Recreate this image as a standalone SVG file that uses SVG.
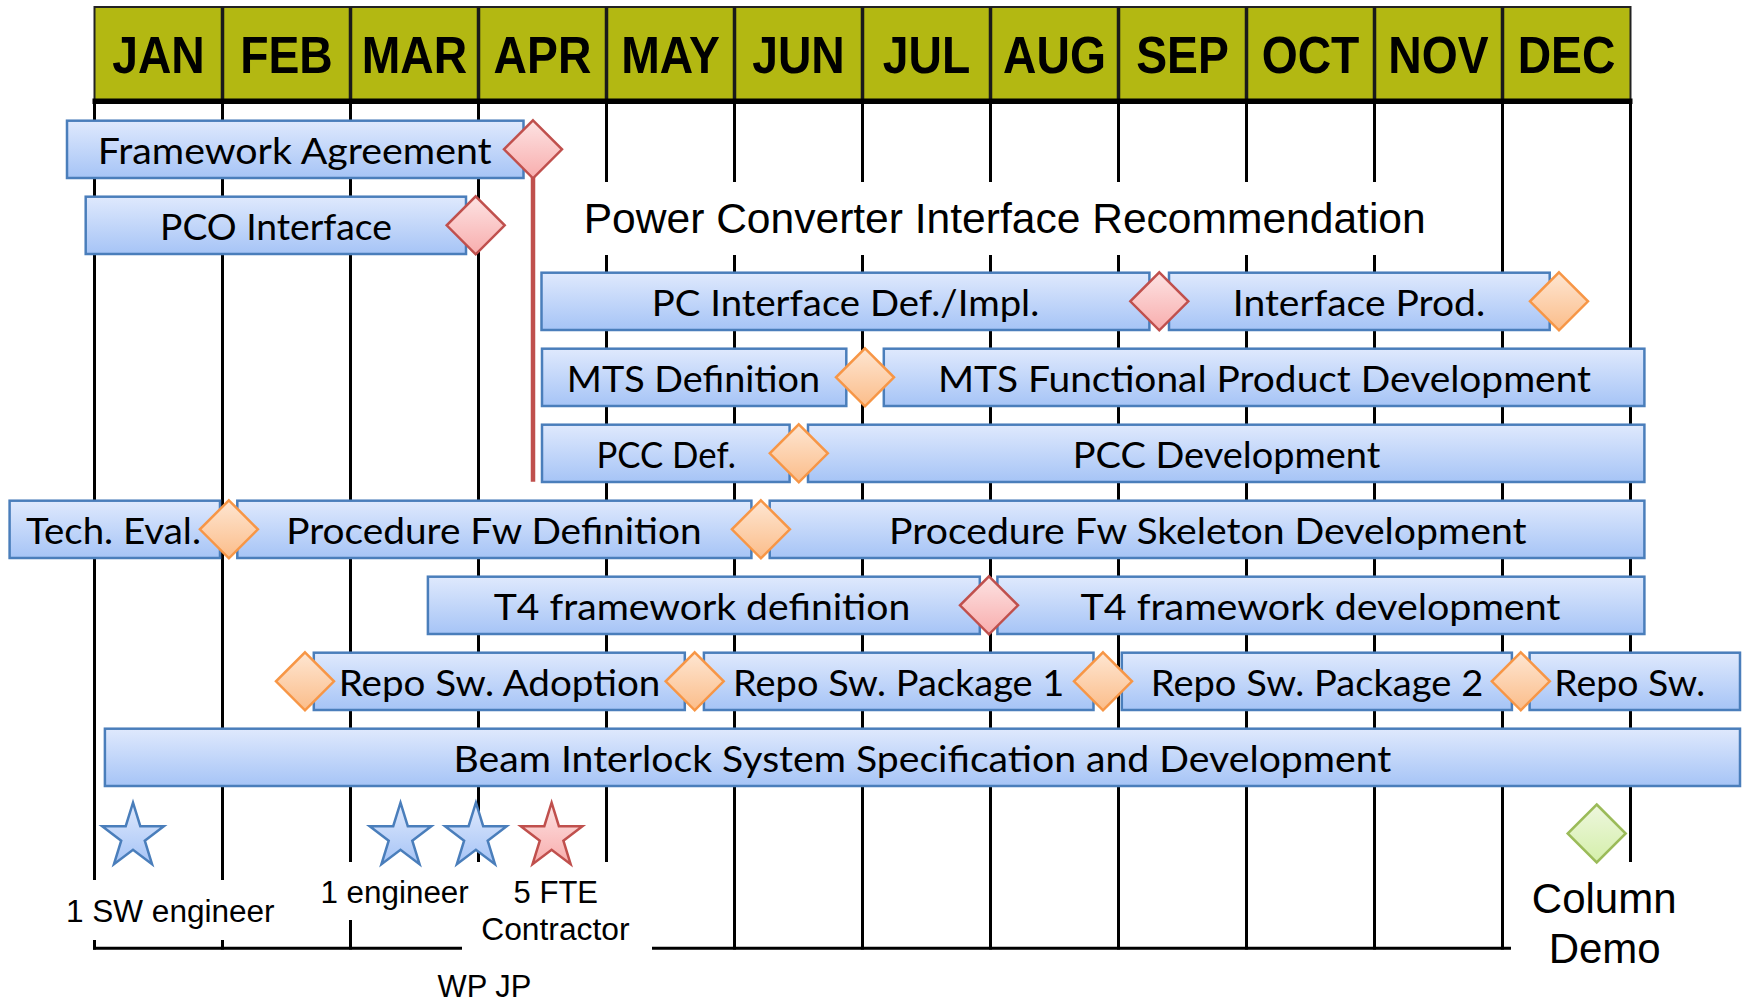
<svg xmlns="http://www.w3.org/2000/svg" xmlns:xlink="http://www.w3.org/1999/xlink" width="1746" height="1003" viewBox="0 0 1746 1003">
<style>
.mh{font-family:"Liberation Sans",Arial,sans-serif;font-weight:bold;font-size:46.3px;text-anchor:middle;fill:#000}
.bt{font-family:Lato,"Open Sans",sans-serif;font-size:37px;text-anchor:middle;fill:#000}
.lt{font-family:"Liberation Sans",Arial,sans-serif;font-size:31px;text-anchor:middle;fill:#000}
.lg{font-family:"Liberation Sans",Arial,sans-serif;font-size:42px;text-anchor:middle;fill:#000}
.bar{fill:url(#gBar);stroke:#4a7ebb;stroke-width:2.5}
.dR{fill:url(#gRed);stroke:#c0504d;stroke-width:2.5}
.dO{fill:url(#gOr);stroke:#f79646;stroke-width:2.5}
.dG{fill:url(#gGr);stroke:#9bbb59;stroke-width:2.5}
.sB{fill:url(#gBar);stroke:#4a7ebb;stroke-width:2.5}
.sR{fill:url(#gRed);stroke:#c0504d;stroke-width:2.5}
.grid line{stroke:#000;stroke-width:3}
</style>
<defs>
<linearGradient id="gBar" x1="0" y1="0" x2="0" y2="1"><stop offset="0" stop-color="#dfe9fd"/><stop offset="1" stop-color="#a6c4f6"/></linearGradient>
<linearGradient id="gRed" x1="0" y1="0" x2="0" y2="1"><stop offset="0" stop-color="#fde3e3"/><stop offset="1" stop-color="#f8adad"/></linearGradient>
<linearGradient id="gOr" x1="0" y1="0" x2="0" y2="1"><stop offset="0" stop-color="#fee6d2"/><stop offset="1" stop-color="#fbbd8a"/></linearGradient>
<linearGradient id="gGr" x1="0" y1="0" x2="0" y2="1"><stop offset="0" stop-color="#eef7de"/><stop offset="1" stop-color="#d4efaa"/></linearGradient>
<path id="dia" d="M0,-29 L29,0 L0,29 L-29,0 Z"/>
<path id="star" d="M0,-34 L7.29,-10.52 L30.82,-10.51 L11.79,4.02 L19.04,27.51 L0,13 L-19.04,27.51 L-11.79,4.02 L-30.82,-10.51 L-7.29,-10.52 Z"/>
</defs>
<rect width="1746" height="1003" fill="#fff"/>

<g id="header">
<rect x="94.5" y="7" width="1536" height="94" fill="#b3b812" stroke="#222" stroke-width="2"/>
<g stroke="#1a1a1a" stroke-width="3.5">
<line x1="222.5" y1="7" x2="222.5" y2="101"/><line x1="350.5" y1="7" x2="350.5" y2="101"/><line x1="478.5" y1="7" x2="478.5" y2="101"/><line x1="606.5" y1="7" x2="606.5" y2="101"/><line x1="734.5" y1="7" x2="734.5" y2="101"/><line x1="862.5" y1="7" x2="862.5" y2="101"/><line x1="990.5" y1="7" x2="990.5" y2="101"/><line x1="1118.5" y1="7" x2="1118.5" y2="101"/><line x1="1246.5" y1="7" x2="1246.5" y2="101"/><line x1="1374.5" y1="7" x2="1374.5" y2="101"/><line x1="1502.5" y1="7" x2="1502.5" y2="101"/>
</g>
<line x1="92.5" y1="101.3" x2="1632.5" y2="101.3" stroke="#000" stroke-width="5.5"/>
<g transform="scale(1 1.1)">
<text class="mh" x="158.5" y="66.1">JAN</text><text class="mh" x="286.5" y="66.1">FEB</text><text class="mh" x="414.5" y="66.1">MAR</text><text class="mh" x="542.5" y="66.1">APR</text><text class="mh" x="670.5" y="66.1">MAY</text><text class="mh" x="798.5" y="66.1">JUN</text><text class="mh" x="926.5" y="66.1">JUL</text><text class="mh" x="1054.5" y="66.1">AUG</text><text class="mh" x="1182.5" y="66.1">SEP</text><text class="mh" x="1310.5" y="66.1">OCT</text><text class="mh" x="1438.5" y="66.1">NOV</text><text class="mh" x="1566.5" y="66.1">DEC</text>
</g>
</g>

<g class="grid" id="grid">
<line x1="94.5" y1="104" x2="94.5" y2="880"/><line x1="94.5" y1="940" x2="94.5" y2="949.5"/>
<line x1="222.5" y1="104" x2="222.5" y2="880"/><line x1="222.5" y1="940" x2="222.5" y2="949.5"/>
<line x1="350.5" y1="104" x2="350.5" y2="862"/><line x1="350.5" y1="920" x2="350.5" y2="949.5"/>
<line x1="478.5" y1="104" x2="478.5" y2="862"/>
<line x1="606.5" y1="104" x2="606.5" y2="182"/><line x1="606.5" y1="255" x2="606.5" y2="862"/>
<line x1="734.5" y1="104" x2="734.5" y2="182"/><line x1="734.5" y1="255" x2="734.5" y2="949.5"/>
<line x1="862.5" y1="104" x2="862.5" y2="182"/><line x1="862.5" y1="255" x2="862.5" y2="949.5"/>
<line x1="990.5" y1="104" x2="990.5" y2="182"/><line x1="990.5" y1="255" x2="990.5" y2="949.5"/>
<line x1="1118.5" y1="104" x2="1118.5" y2="182"/><line x1="1118.5" y1="255" x2="1118.5" y2="949.5"/>
<line x1="1246.5" y1="104" x2="1246.5" y2="182"/><line x1="1246.5" y1="255" x2="1246.5" y2="949.5"/>
<line x1="1374.5" y1="104" x2="1374.5" y2="182"/><line x1="1374.5" y1="255" x2="1374.5" y2="949.5"/>
<line x1="1502.5" y1="104" x2="1502.5" y2="949.5"/>
<line x1="1630.5" y1="104" x2="1630.5" y2="862"/>
<line x1="93" y1="948.3" x2="462" y2="948.3"/><line x1="652" y1="948.3" x2="1511" y2="948.3"/>
</g>

<g id="connectors">
<line x1="533" y1="170" x2="533" y2="481.7" stroke="#c0504d" stroke-width="4.5"/>
</g>

<g id="title"><text x="583.7" y="233.3" font-family="Liberation Sans, Arial, sans-serif" font-size="42.5" textLength="842" lengthAdjust="spacingAndGlyphs">Power Converter Interface Recommendation</text></g>

<g id="framework-agreement"><rect class="bar" x="67" y="120.7" width="456.5" height="57.3"/><text class="bt" x="294.7" y="163.7" textLength="394" lengthAdjust="spacingAndGlyphs">Framework Agreement</text></g>
<g id="m-fa"><use href="#dia" class="dR" x="533" y="149.3"/></g>
<g id="pco-interface"><rect class="bar" x="85.7" y="196.7" width="380.3" height="57.3"/><text class="bt" x="276" y="239.7" textLength="232" lengthAdjust="spacingAndGlyphs">PCO Interface</text></g>
<g id="m-pco"><use href="#dia" class="dR" x="475.7" y="225.3"/></g>

<g id="pc-interface"><rect class="bar" x="541.5" y="272.7" width="607.9" height="57.3"/><text class="bt" x="845.5" y="315.7" textLength="387.4" lengthAdjust="spacingAndGlyphs">PC Interface Def./Impl.</text></g>
<g id="interface-prod"><rect class="bar" x="1169" y="272.7" width="380.7" height="57.3"/><text class="bt" x="1359" y="315.7" textLength="252.4" lengthAdjust="spacingAndGlyphs">Interface Prod.</text></g>
<g id="m-pc"><use href="#dia" class="dR" x="1159.3" y="301.3"/></g>
<g id="m-ip"><use href="#dia" class="dO" x="1559" y="301.3"/></g>

<g id="mts-def"><rect class="bar" x="542" y="348.7" width="304.3" height="57.3"/><text class="bt" x="693.5" y="391.7" textLength="253.3" lengthAdjust="spacingAndGlyphs">MTS Definition</text></g>
<g id="mts-dev"><rect class="bar" x="883.8" y="348.7" width="760.6" height="57.3"/><text class="bt" x="1264.5" y="391.7" textLength="653" lengthAdjust="spacingAndGlyphs">MTS Functional Product Development</text></g>
<g id="m-mts"><use href="#dia" class="dO" x="865" y="377.3"/></g>

<g id="pcc-def"><rect class="bar" x="542" y="424.7" width="247.6" height="57.3"/><text class="bt" x="666.2" y="467.7" textLength="139.6" lengthAdjust="spacingAndGlyphs">PCC Def.</text></g>
<g id="pcc-dev"><rect class="bar" x="808" y="424.7" width="836.4" height="57.3"/><text class="bt" x="1226.6" y="467.7" textLength="307.6" lengthAdjust="spacingAndGlyphs">PCC Development</text></g>
<g id="m-pcc"><use href="#dia" class="dO" x="798.8" y="453.3"/></g>

<g id="tech-eval"><rect class="bar" x="9.6" y="500.7" width="210.4" height="57.3"/><text class="bt" x="113.5" y="543.7" textLength="175" lengthAdjust="spacingAndGlyphs">Tech. Eval.</text></g>
<g id="proc-def"><rect class="bar" x="237.3" y="500.7" width="514.1" height="57.3"/><text class="bt" x="494" y="543.7" textLength="415.3" lengthAdjust="spacingAndGlyphs">Procedure Fw Definition</text></g>
<g id="proc-dev"><rect class="bar" x="769.7" y="500.7" width="874.7" height="57.3"/><text class="bt" x="1207.8" y="543.7" textLength="637.4" lengthAdjust="spacingAndGlyphs">Procedure Fw Skeleton Development</text></g>
<g id="m-te"><use href="#dia" class="dO" x="228.9" y="529.3"/></g>
<g id="m-pd"><use href="#dia" class="dO" x="760.9" y="529.3"/></g>

<g id="t4-def"><rect class="bar" x="427.9" y="576.7" width="551.9" height="57.3"/><text class="bt" x="702" y="619.7" textLength="416.5" lengthAdjust="spacingAndGlyphs">T4 framework definition</text></g>
<g id="t4-dev"><rect class="bar" x="997.4" y="576.7" width="647" height="57.3"/><text class="bt" x="1320.5" y="619.7" textLength="480" lengthAdjust="spacingAndGlyphs">T4 framework development</text></g>
<g id="m-t4"><use href="#dia" class="dR" x="989" y="605.3"/></g>

<g id="repo-adopt"><rect class="bar" x="313.8" y="652.7" width="371" height="57.3"/><text class="bt" x="499.5" y="695.7" textLength="321.6" lengthAdjust="spacingAndGlyphs">Repo Sw. Adoption</text></g>
<g id="repo-p1"><rect class="bar" x="703.9" y="652.7" width="389.6" height="57.3"/><text class="bt" x="898.7" y="695.7" textLength="331.4" lengthAdjust="spacingAndGlyphs">Repo Sw. Package 1</text></g>
<g id="repo-p2"><rect class="bar" x="1121.8" y="652.7" width="390.1" height="57.3"/><text class="bt" x="1317" y="695.7" textLength="332.5" lengthAdjust="spacingAndGlyphs">Repo Sw. Package 2</text></g>
<g id="repo-sw"><rect class="bar" x="1529.6" y="652.7" width="210.4" height="57.3"/><text class="bt" x="1629.7" y="695.7" textLength="150.7" lengthAdjust="spacingAndGlyphs">Repo Sw.</text></g>
<g id="m-r0"><use href="#dia" class="dO" x="305" y="681.3"/></g>
<g id="m-r1"><use href="#dia" class="dO" x="694.7" y="681.3"/></g>
<g id="m-r2"><use href="#dia" class="dO" x="1103" y="681.3"/></g>
<g id="m-r3"><use href="#dia" class="dO" x="1520.8" y="681.3"/></g>

<g id="beam"><rect class="bar" x="104.9" y="728.7" width="1635.1" height="57.3"/><text class="bt" x="922.4" y="771.7" textLength="937.8" lengthAdjust="spacingAndGlyphs">Beam Interlock System Specification and Development</text></g>

<g id="star-1"><use href="#star" class="sB" x="133" y="836.7"/></g>
<g id="star-2"><use href="#star" class="sB" x="400.5" y="836.7"/></g>
<g id="star-3"><use href="#star" class="sB" x="475.9" y="836.7"/></g>
<g id="star-4"><use href="#star" class="sR" x="551.6" y="836.7"/></g>
<g id="column-demo-marker"><use href="#dia" class="dG" x="1596.7" y="833.5"/></g>

<g id="labels">
<text class="lt" x="170.3" y="921.7" textLength="208.6" lengthAdjust="spacingAndGlyphs">1 SW engineer</text>
<text class="lt" x="394.6" y="902.7" textLength="148.3" lengthAdjust="spacingAndGlyphs">1 engineer</text>
<text class="lt" x="555.8" y="902.7">5 FTE</text>
<text class="lt" x="555.4" y="940" textLength="148.2" lengthAdjust="spacingAndGlyphs">Contractor</text>
<text class="lt" x="484.4" y="996.5" textLength="93.8" lengthAdjust="spacingAndGlyphs">WP JP</text>
<text class="lg" x="1604.2" y="913.3">Column</text>
<text class="lg" x="1604.7" y="963.3">Demo</text>
</g>
</svg>
